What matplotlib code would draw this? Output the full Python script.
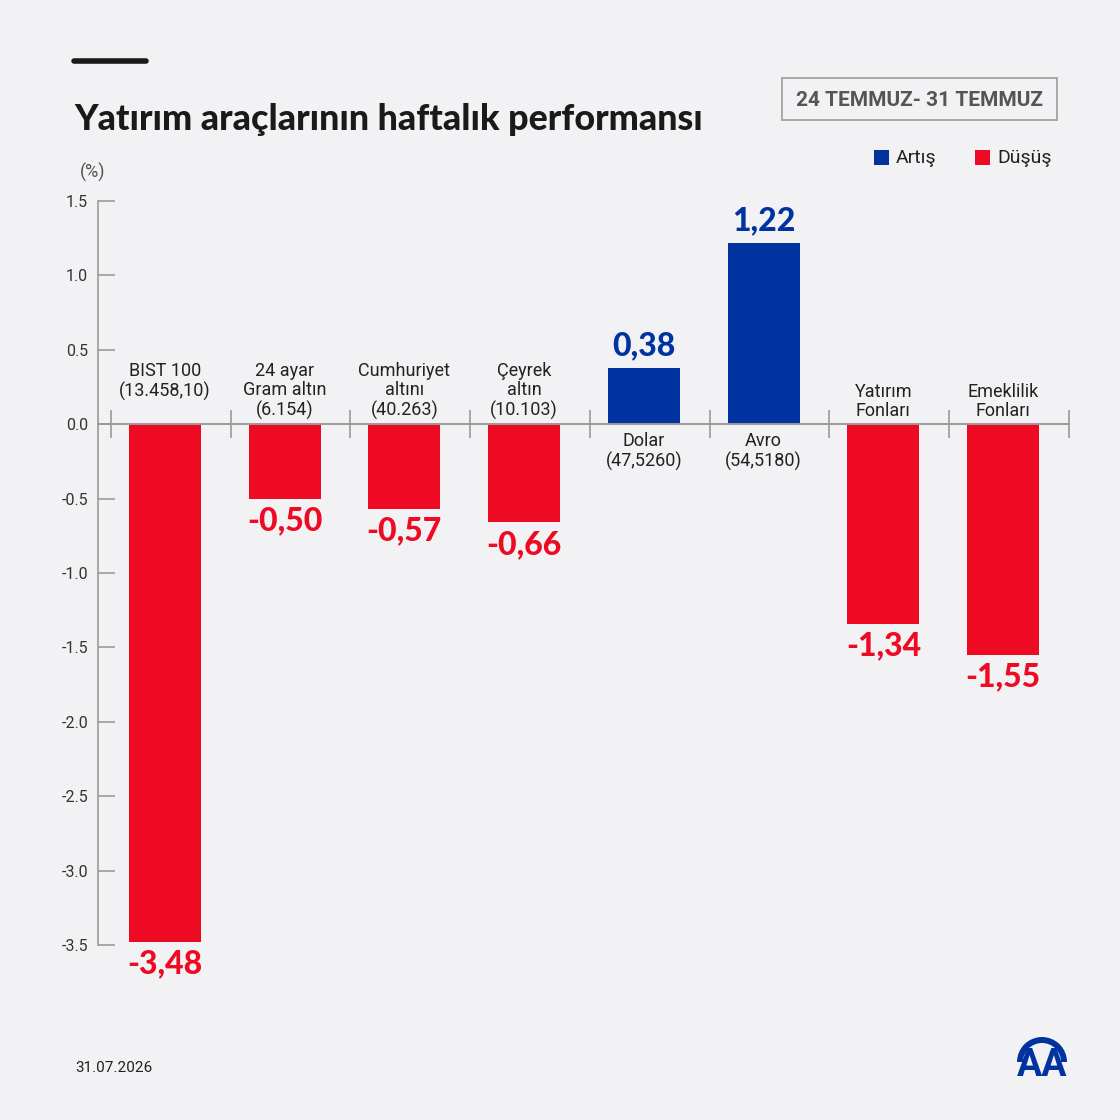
import matplotlib.pyplot as plt
from matplotlib.patches import Rectangle, Wedge
from matplotlib.lines import Line2D

# chart data
categories = [
    "BIST 100\n(13.458,10)",
    "24 ayar\nGram altın\n(6.154)",
    "Cumhuriyet\naltını\n(40.263)",
    "Çeyrek\naltın\n(10.103)",
    "Dolar\n(47,5260)",
    "Avro\n(54,5180)",
    "Yatırım\nFonları",
    "Emeklilik\nFonları",
]
changes = [-3.48, -0.50, -0.57, -0.66, 0.38, 1.22, -1.34, -1.55]
y_ticks = [1.5, 1.0, 0.5, 0.0, -0.5, -1.0, -1.5, -2.0, -2.5, -3.0, -3.5]

# layout only: top edge of each category label (data units)
label_top = [0.42, 0.42, 0.42, 0.42, -0.05, -0.05, 0.28, 0.28]

BG = "#f2f2f4"
RED = "#ee0a22"
BLUE = "#0033a0"
GRAY = "#9a9a9a"
TXT = "#222222"

W = H = 1120


def fx(px):
    return px / W


def fy(py):
    return 1 - py / H


fig = plt.figure(figsize=(11.2, 11.2), dpi=100, facecolor=BG)
ax = fig.add_axes([fx(98), fy(945), (1069 - 98) / W, (945 - 201) / H])
ax.set_facecolor(BG)

x = list(range(len(changes)))
colors = [BLUE if v > 0 else RED for v in changes]
ax.bar(x, changes, width=0.6, color=colors, zorder=3)

ax.set_xlim(-0.558, len(changes) - 0.467)
ax.set_ylim(-3.5, 1.5)

for s in ["top", "right"]:
    ax.spines[s].set_visible(False)
ax.spines["left"].set_color(GRAY)
ax.spines["left"].set_linewidth(1.2)
ax.spines["bottom"].set_position(("data", 0))
ax.spines["bottom"].set_color(GRAY)
ax.spines["bottom"].set_linewidth(1.4)
ax.spines["bottom"].set_zorder(4)

ax.set_yticks(y_ticks)
ax.set_yticklabels([f"{t:.1f}" for t in y_ticks])
ax.tick_params(axis="y", direction="in", length=12, width=1.2, color=GRAY,
               pad=7, labelsize=11.5, labelcolor="#333333")
ax.set_xticks([i - 0.45 for i in range(len(changes) + 1)])
ax.set_xticklabels([])
ax.tick_params(axis="x", direction="inout", length=20, width=1.2, color=GRAY)
for lab in ax.get_yticklabels():
    lab.set_fontfamily("Roboto")

for i, (v, lab) in enumerate(zip(changes, categories)):
    ax.text(i, label_top[i], lab, ha="center", va="top", fontsize=13,
            family="Roboto", color=TXT, linespacing=1.12, zorder=5)
    txt = f"{v:.2f}".replace(".", ",")
    if v > 0:
        ax.annotate(txt, (i, v), xytext=(0, 5), textcoords="offset points",
                    ha="center", va="bottom", fontsize=23, fontweight="black",
                    family="Lato", color=BLUE)
    else:
        ax.annotate(txt, (i, v), xytext=(0, -5.5), textcoords="offset points",
                    ha="center", va="top", fontsize=23, fontweight="black",
                    family="Lato", color=RED)

# header
fig.add_artist(Line2D([fx(74), fx(146)], [fy(61), fy(61)], color="#1a1a1a",
                      lw=4, solid_capstyle="round"))
fig.text(fx(74), fy(130), "Yatırım araçlarının haftalık performansı",
         fontsize=25.8, fontweight="black", family="Lato", color="#1a1a1a",
         va="baseline", ha="left")

fig.add_artist(Rectangle((fx(782), fy(120)), (1057 - 782) / W, 42 / H,
                         fill=False, edgecolor="#a8a8a8", lw=1.4))
fig.text(fx(920), fy(100), "24 TEMMUZ- 31 TEMMUZ", fontsize=15,
         fontweight="bold", family="Roboto", color="#555555",
         ha="center", va="center")

# legend
for px, col, name in [(874, BLUE, "Artış"), (975, RED, "Düşüş")]:
    fig.add_artist(Rectangle((fx(px), fy(165)), 15 / W, 15 / H,
                             facecolor=col, edgecolor="none"))
    fig.text(fx(px + 22), fy(158), name, fontsize=14, family="Roboto",
             color=TXT, va="center", ha="left")

fig.text(fx(80), fy(172), "(%)", fontsize=13, family="Roboto",
         color="#555555", va="center", ha="left")
fig.text(fx(75), fy(1068), "31.07.2026", fontsize=11, family="Roboto",
         color=TXT, va="center", ha="left")

# AA logo
fig.add_artist(Wedge((fx(1042), fy(1062)), 25 / W, 0, 180, width=6 / W,
                     facecolor=BLUE, edgecolor="none"))
fig.text(fx(1042), fy(1066), "AA", fontsize=27, fontweight="bold",
         family="Roboto", color=BLUE, ha="center", va="center")

fig.savefig("out.png", dpi=100, facecolor=BG)
